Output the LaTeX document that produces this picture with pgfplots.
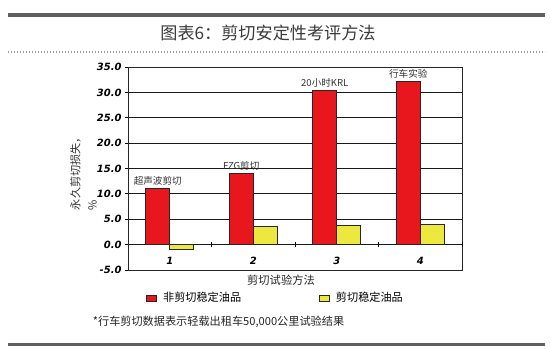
\documentclass[border=0pt]{standalone}
\usepackage{fontspec}
\setmainfont{Noto Sans CJK SC}
\newfontfamily\cjk{Noto Sans CJK SC}
\newfontfamily\tickfont{DejaVu Sans}
\usepackage{pgfplots}
\pgfplotsset{compat=1.18}
\definecolor{barred}{HTML}{E8171E}
\definecolor{baryellow}{HTML}{EDE83E}
\definecolor{titlegray}{HTML}{3A3A3A}

\begin{document}
\begin{tikzpicture}
\useasboundingbox[fill=white] (0bp,0bp) rectangle (550bp,-349bp);
% frame lines of the figure
\draw[line width=4bp, gray!75!black] (8bp,-14.5bp) -- (545bp,-14.5bp);
\draw[line width=1.2bp, gray!80, dash pattern=on 1.2bp off 1.8bp] (8bp,-52bp) -- (545bp,-52bp);
\draw[line width=3bp, gray!75!black] (8bp,-344.5bp) -- (545bp,-344.5bp);
\node[font=\cjk\fontsize{17.2}{20}\selectfont, text=titlegray] at (268bp,-33bp) {图表6：剪切安定性考评方法};

\begin{axis}[
    at={(128bp,-270bp)}, anchor=south west,
    scale only axis,
    width=334bp, height=203bp,
    xmin=0.5, xmax=4.5,
    ymin=-5, ymax=35,
    xtick={1,2,3,4},
    xticklabels={1,2,3,4},
    x tick label style={font=\tickfont\bfseries\itshape\fontsize{10}{12}\selectfont, anchor=center, yshift=12bp},
    xtick style={draw=none},
    ytick={-5,0,5,10,15,20,25,30,35},
    ytick pos=left,
    tick align=outside,
    major tick length=3bp,
    y tick label style={font=\tickfont\bfseries\itshape\fontsize{10}{12}\selectfont,
        /pgf/number format/.cd, fixed, fixed zerofill, precision=1, assume math mode=true},
    ytick style={black, line width=0.9pt},
    ymajorgrids,
    grid style={black!90, line width=0.9pt},
    axis line style={black!85, line width=1pt},
    clip=false,
    legend columns=2,
    legend style={draw=none, fill=none, at={(0.442,-0.138)}, anchor=center,
        font=\cjk\fontsize{11.2}{13}\selectfont,
        /tikz/every even column/.append style={column sep=76bp}},
    legend image code/.code={\draw[#1, line width=0.7pt] (0bp,-3bp) rectangle (10bp,3bp); \path (14bp,0bp);},
]
\addplot[ybar, bar width=24bp, bar shift=-12bp, fill=barred, draw=black!85, line width=0.8pt,
    nodes near coords, point meta=explicit symbolic,
    every node near coord/.append style={font=\cjk\fontsize{9.6}{11}\selectfont, text=black!80, anchor=south, inner sep=3bp, xshift=-12bp}]
coordinates {
    (1,11.0) [超声波剪切]
    (2,14.0) [FZG剪切]
    (3,30.4) [20小时KRL]
    (4,32.1) [行车实验]
};
\addlegendentry{非剪切稳定油品}
\addplot[ybar, bar width=24bp, bar shift=12bp, fill=baryellow, draw=black!85, line width=0.8pt]
coordinates {
    (1,-1.0)
    (2,3.6)
    (3,3.8)
    (4,4.0)
};
\addlegendentry{剪切稳定油品}
% small category ticks on the zero line
\draw[black, line width=0.8pt] (axis cs:1.5,-0.5) -- (axis cs:1.5,0.5);
\draw[black, line width=0.8pt] (axis cs:2.5,-0.5) -- (axis cs:2.5,0.5);
\draw[black, line width=0.8pt] (axis cs:3.5,-0.5) -- (axis cs:3.5,0.5);
\draw[black, line width=0.8pt] (axis cs:4.5,-0.5) -- (axis cs:4.5,0.5);
\end{axis}

\node[rotate=90, align=left, font=\cjk\fontsize{11.2}{17}\selectfont, text=black!80] at (83.5bp,-171bp) {永久剪切损失，\\\%};
\node[font=\cjk\fontsize{11.3}{13}\selectfont, text=black!85] at (281bp,-280bp) {剪切试验方法};
\node[anchor=west, font=\cjk\fontsize{11.2}{13}\selectfont, text=black!85, inner sep=0pt] at (92.7bp,-322bp) {*行车剪切数据表示轻载出租车50,000公里试验结果};
\end{tikzpicture}
\end{document}
